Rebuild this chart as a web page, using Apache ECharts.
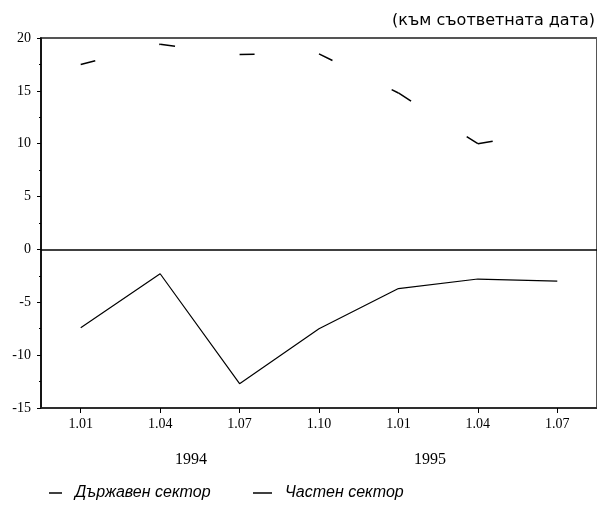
<!DOCTYPE html>
<html lang="bg">
<head>
<meta charset="utf-8">
<script src="https://cdn.jsdelivr.net/npm/echarts@6/dist/echarts.min.js"></script>
<style>
  html, body { margin: 0; padding: 0; background: #fff; }
  #chart { width: 597px; height: 513px; }
</style>
</head>
<body>
<div id="chart"></div>
<script>
// Quarter labels along the x axis (1994 Q1 .. 1995 Q3)
const quarters = ['1.01', '1.04', '1.07', '1.10', '1.01', '1.04', '1.07'];
// Year captions under the quarter labels
const years = ['1994', '1995'];
// Change against the same date a year earlier, %
const stateSector = [17.5, 19.4, 18.45, 18.5, 14.8, 10.0, 11.2];
const privateSector = [-7.4, -2.3, -12.7, -7.5, -3.7, -2.8, -3.0];
const seriesNames = ['Държавен сектор', 'Частен сектор'];
const unitNote = '(към съответната дата)';

const serif = '"Liberation Serif", "DejaVu Serif", serif';
const sans = '"Liberation Sans", Arial, sans-serif';
const wideSans = '"DejaVu Sans", "Liberation Sans", sans-serif';

const chart = echarts.init(document.getElementById('chart'));

// The state-sector line is dashed per segment, so every segment gets its own
// two-point series and the dash pattern restarts at each vertex.
const stateSegments = [];
for (let i = 0; i < stateSector.length - 1; i++) {
  const d = stateSector.map((v, j) => (j === i || j === i + 1) ? v : null);
  stateSegments.push({
    name: seriesNames[0],
    type: 'line',
    data: d,
    symbol: 'none',
    silent: true,
    connectNulls: false,
    lineStyle: { color: '#000', width: 1.5, type: [15, 66] },
    itemStyle: { color: '#000' }
  });
}

chart.setOption({
  animation: false,
  backgroundColor: '#fff',
  title: {
    text: unitNote,
    right: -3,
    top: 8,
    textStyle: { fontFamily: wideSans, fontSize: 16, fontWeight: 'normal', color: '#000' }
  },
  grid: {
    left: 41, right: -4, top: 38, bottom: 105,
    show: true, borderColor: '#555', borderWidth: 2, backgroundColor: 'transparent'
  },
  legend: [
    {
      data: [seriesNames[0]],
      left: 44, top: 480,
      icon: 'rect', itemWidth: 13, itemHeight: 1.5, itemGap: 0,
      textStyle: { fontFamily: sans, fontSize: 16, fontStyle: 'italic', color: '#000', padding: [0, 0, 0, 8] },
      selectedMode: false
    },
    {
      data: [seriesNames[1]],
      left: 248, top: 480,
      icon: 'rect', itemWidth: 19, itemHeight: 1.5, itemGap: 0,
      textStyle: { fontFamily: sans, fontSize: 16, fontStyle: 'italic', color: '#000', padding: [0, 0, 0, 8] },
      selectedMode: false
    }
  ],
  xAxis: {
    type: 'category',
    data: quarters,
    boundaryGap: true,
    axisLine: { show: true, onZero: false, lineStyle: { color: '#222', width: 1.5 } },
    axisTick: { show: true, alignWithLabel: true, length: 5, lineStyle: { color: '#000', width: 1 } },
    axisLabel: { fontFamily: serif, fontSize: 14, color: '#000', margin: 9 },
    splitLine: { show: false }
  },
  yAxis: {
    type: 'value',
    min: -15, max: 20, interval: 5,
    axisLine: { show: true, lineStyle: { color: '#000', width: 1.5 } },
    axisTick: { show: true, length: 4, lineStyle: { color: '#000', width: 1 } },
    minorTick: { show: true, splitNumber: 2, length: 2, lineStyle: { color: '#000', width: 1 } },
    axisLabel: { fontFamily: serif, fontSize: 14, color: '#000', margin: 10 },
    splitLine: { show: false }
  },
  graphic: [
    { type: 'text', left: 175, top: 452, style: { text: years[0], font: '16px ' + serif, fill: '#000' } },
    { type: 'text', left: 414, top: 452, style: { text: years[1], font: '16px ' + serif, fill: '#000' } }
  ],
  series: [
    ...stateSegments,
    {
      name: seriesNames[1],
      type: 'line',
      data: privateSector,
      symbol: 'none',
      silent: true,
      lineStyle: { color: '#000', width: 1.2 },
      itemStyle: { color: '#000' },
      markLine: {
        silent: true,
        symbol: 'none',
        label: { show: false },
        lineStyle: { color: '#000', width: 1.5, type: 'solid' },
        data: [{ yAxis: 0 }]
      }
    }
  ]
});
</script>
</body>
</html>
